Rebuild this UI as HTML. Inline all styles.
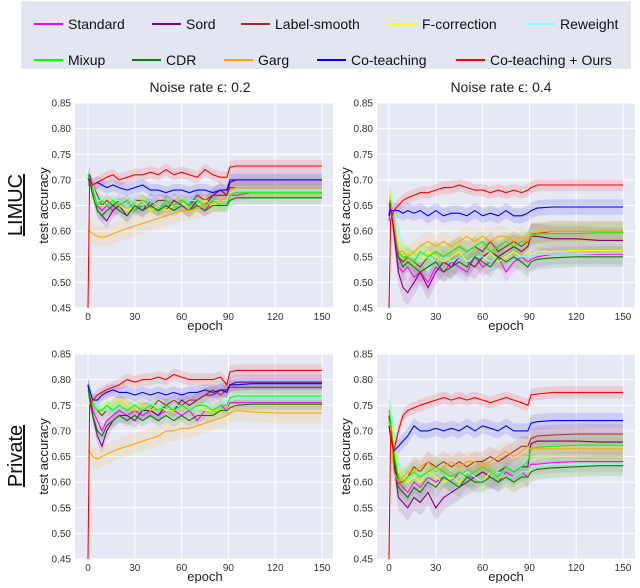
<!DOCTYPE html>
<html><head><meta charset="utf-8"><style>
body{margin:0;background:#fff;width:640px;height:583px;overflow:hidden;font-family:"Liberation Sans",sans-serif}
svg text{font-family:"Liberation Sans","DejaVu Sans",sans-serif}
</style></head><body>
<svg id="c" width="640" height="583" xmlns="http://www.w3.org/2000/svg"></svg>
<script>
const seriesNames=["Standard","Sord","Label-smooth","F-correction","Reweight","Mixup","CDR","Garg","Co-teaching","Co-teaching + Ours"];
const seriesColors=["#ff00ff","#800080","#a52a2a","#ffff00","#7fffff","#00ff00","#008000","#ffa500","#0000ff","#ff0000"];
const epochs=[0,1,3,6,9,12,16,20,25,30,35,40,45,50,55,60,65,70,75,80,85,89,91,95,105,120,135,150];
const yTicks=[0.45,0.50,0.55,0.60,0.65,0.70,0.75,0.80,0.85];
const xTicks=[0,30,60,90,120,150];
const panelTitles=["Noise rate ϵ: 0.2","Noise rate ϵ: 0.4"];
const rowLabels=["LIMUC","Private"];
const limuc02=[
[0.70,0.70,0.68,0.65,0.64,0.65,0.64,0.65,0.66,0.64,0.65,0.65,0.64,0.66,0.65,0.65,0.66,0.65,0.64,0.66,0.66,0.66,0.67,0.67,0.675,0.675,0.675,0.675],
[0.70,0.71,0.68,0.64,0.63,0.62,0.64,0.65,0.63,0.65,0.64,0.66,0.65,0.64,0.66,0.65,0.64,0.66,0.65,0.67,0.68,0.67,0.695,0.70,0.70,0.70,0.70,0.70],
[0.70,0.70,0.69,0.67,0.65,0.66,0.65,0.66,0.65,0.66,0.66,0.65,0.66,0.66,0.65,0.66,0.65,0.67,0.66,0.67,0.67,0.67,0.685,0.685,0.685,0.685,0.685,0.685],
[0.71,0.70,0.67,0.65,0.65,0.65,0.66,0.65,0.64,0.65,0.66,0.64,0.65,0.64,0.65,0.66,0.64,0.65,0.66,0.65,0.66,0.66,0.67,0.675,0.675,0.675,0.675,0.675],
[0.71,0.70,0.69,0.66,0.66,0.65,0.66,0.66,0.65,0.66,0.65,0.66,0.65,0.66,0.65,0.65,0.66,0.66,0.65,0.66,0.66,0.66,0.675,0.68,0.68,0.68,0.68,0.68],
[0.71,0.70,0.68,0.65,0.66,0.65,0.66,0.65,0.66,0.64,0.66,0.65,0.64,0.66,0.65,0.66,0.65,0.66,0.65,0.66,0.65,0.65,0.67,0.675,0.675,0.675,0.675,0.675],
[0.70,0.70,0.67,0.64,0.63,0.64,0.65,0.64,0.63,0.65,0.64,0.65,0.64,0.65,0.64,0.65,0.64,0.65,0.64,0.65,0.65,0.65,0.66,0.665,0.665,0.665,0.665,0.665],
[0.60,0.60,0.595,0.59,0.588,0.59,0.595,0.60,0.605,0.61,0.615,0.62,0.625,0.63,0.635,0.64,0.64,0.645,0.65,0.655,0.66,0.665,0.68,0.685,0.685,0.685,0.685,0.685],
[0.70,0.70,0.69,0.695,0.69,0.685,0.69,0.685,0.68,0.685,0.69,0.68,0.68,0.675,0.68,0.68,0.675,0.68,0.68,0.675,0.68,0.68,0.70,0.70,0.70,0.70,0.70,0.70],
[0.45,0.70,0.69,0.695,0.70,0.705,0.71,0.70,0.705,0.71,0.71,0.715,0.71,0.72,0.71,0.715,0.71,0.705,0.72,0.71,0.705,0.705,0.725,0.727,0.727,0.727,0.727,0.727]];
const limuc04=[
[0.62,0.65,0.60,0.53,0.52,0.53,0.51,0.52,0.50,0.53,0.52,0.54,0.53,0.52,0.55,0.53,0.54,0.55,0.52,0.54,0.55,0.54,0.545,0.55,0.555,0.555,0.555,0.555],
[0.63,0.66,0.60,0.52,0.49,0.48,0.50,0.52,0.49,0.52,0.54,0.53,0.55,0.54,0.53,0.55,0.56,0.55,0.56,0.57,0.56,0.57,0.59,0.59,0.585,0.585,0.582,0.582],
[0.63,0.66,0.62,0.55,0.54,0.55,0.54,0.53,0.55,0.56,0.55,0.56,0.57,0.56,0.57,0.56,0.58,0.56,0.57,0.58,0.57,0.58,0.595,0.595,0.60,0.60,0.60,0.60],
[0.68,0.67,0.62,0.57,0.55,0.56,0.55,0.54,0.56,0.55,0.54,0.55,0.56,0.54,0.55,0.54,0.56,0.54,0.55,0.56,0.55,0.56,0.555,0.56,0.56,0.562,0.562,0.562],
[0.68,0.68,0.64,0.60,0.57,0.55,0.55,0.54,0.55,0.54,0.55,0.54,0.55,0.54,0.55,0.55,0.54,0.55,0.54,0.55,0.55,0.55,0.555,0.555,0.555,0.555,0.557,0.557],
[0.65,0.66,0.62,0.56,0.55,0.55,0.54,0.56,0.55,0.56,0.55,0.56,0.57,0.56,0.57,0.58,0.56,0.57,0.58,0.57,0.58,0.58,0.59,0.595,0.595,0.595,0.597,0.597],
[0.65,0.66,0.62,0.55,0.53,0.54,0.53,0.52,0.53,0.54,0.52,0.53,0.54,0.53,0.55,0.54,0.53,0.55,0.54,0.55,0.54,0.53,0.54,0.545,0.548,0.55,0.55,0.55],
[0.66,0.66,0.62,0.56,0.56,0.55,0.56,0.57,0.58,0.57,0.58,0.57,0.58,0.59,0.58,0.59,0.58,0.59,0.59,0.58,0.59,0.58,0.595,0.598,0.60,0.60,0.60,0.60],
[0.63,0.64,0.64,0.64,0.635,0.64,0.635,0.64,0.63,0.64,0.63,0.635,0.635,0.63,0.64,0.63,0.635,0.63,0.64,0.63,0.63,0.635,0.64,0.645,0.647,0.647,0.647,0.647],
[0.45,0.62,0.64,0.65,0.66,0.665,0.67,0.675,0.675,0.68,0.685,0.685,0.69,0.685,0.68,0.68,0.675,0.68,0.675,0.68,0.675,0.68,0.685,0.69,0.69,0.69,0.69,0.69]];
const private02=[
[0.78,0.77,0.74,0.72,0.70,0.72,0.73,0.74,0.73,0.74,0.73,0.74,0.73,0.74,0.74,0.73,0.74,0.72,0.74,0.74,0.75,0.74,0.755,0.755,0.755,0.755,0.755,0.755],
[0.79,0.77,0.73,0.69,0.67,0.70,0.72,0.73,0.73,0.72,0.74,0.74,0.73,0.75,0.74,0.76,0.75,0.76,0.77,0.77,0.78,0.78,0.79,0.795,0.795,0.795,0.795,0.795],
[0.79,0.77,0.75,0.74,0.73,0.74,0.75,0.76,0.75,0.74,0.75,0.74,0.76,0.75,0.76,0.75,0.76,0.76,0.77,0.78,0.77,0.78,0.785,0.785,0.785,0.785,0.785,0.785],
[0.79,0.78,0.75,0.74,0.74,0.75,0.75,0.76,0.75,0.74,0.75,0.74,0.75,0.74,0.74,0.75,0.74,0.75,0.74,0.74,0.74,0.74,0.75,0.75,0.752,0.752,0.752,0.752],
[0.79,0.78,0.76,0.75,0.74,0.74,0.75,0.75,0.74,0.75,0.74,0.75,0.75,0.74,0.75,0.75,0.74,0.75,0.75,0.74,0.75,0.75,0.76,0.762,0.762,0.762,0.762,0.762],
[0.79,0.78,0.75,0.74,0.74,0.75,0.74,0.75,0.74,0.75,0.74,0.75,0.74,0.75,0.74,0.75,0.74,0.75,0.75,0.74,0.75,0.75,0.765,0.768,0.768,0.768,0.768,0.768],
[0.79,0.76,0.73,0.70,0.69,0.71,0.72,0.73,0.72,0.73,0.72,0.73,0.72,0.73,0.72,0.73,0.72,0.73,0.73,0.73,0.74,0.74,0.745,0.75,0.752,0.752,0.752,0.752],
[0.66,0.66,0.65,0.645,0.65,0.655,0.66,0.665,0.67,0.675,0.68,0.685,0.69,0.70,0.70,0.705,0.705,0.71,0.715,0.72,0.725,0.73,0.735,0.74,0.737,0.735,0.735,0.735],
[0.79,0.78,0.76,0.76,0.77,0.775,0.78,0.775,0.775,0.77,0.775,0.77,0.775,0.77,0.775,0.77,0.775,0.775,0.78,0.775,0.78,0.775,0.79,0.79,0.792,0.792,0.792,0.792],
[0.45,0.75,0.76,0.77,0.775,0.78,0.785,0.79,0.80,0.795,0.80,0.80,0.805,0.80,0.81,0.805,0.80,0.80,0.80,0.80,0.805,0.79,0.815,0.818,0.818,0.818,0.818,0.818]];
const private04=[
[0.74,0.72,0.66,0.60,0.59,0.58,0.60,0.59,0.61,0.60,0.61,0.60,0.62,0.61,0.61,0.62,0.61,0.60,0.62,0.61,0.62,0.61,0.635,0.635,0.638,0.64,0.64,0.64],
[0.72,0.70,0.64,0.57,0.56,0.55,0.57,0.56,0.58,0.55,0.57,0.58,0.59,0.60,0.61,0.62,0.61,0.62,0.63,0.62,0.63,0.63,0.675,0.68,0.68,0.68,0.678,0.678],
[0.73,0.70,0.66,0.60,0.60,0.61,0.63,0.62,0.64,0.63,0.64,0.63,0.64,0.63,0.64,0.64,0.65,0.64,0.65,0.66,0.67,0.67,0.685,0.69,0.692,0.694,0.694,0.694],
[0.76,0.75,0.68,0.62,0.61,0.60,0.61,0.60,0.62,0.61,0.60,0.61,0.60,0.62,0.61,0.60,0.62,0.61,0.61,0.60,0.61,0.61,0.63,0.632,0.635,0.635,0.635,0.635],
[0.76,0.75,0.70,0.64,0.62,0.61,0.61,0.62,0.61,0.62,0.61,0.60,0.61,0.62,0.61,0.60,0.61,0.62,0.61,0.61,0.62,0.62,0.63,0.632,0.635,0.635,0.635,0.635],
[0.74,0.72,0.66,0.61,0.60,0.61,0.62,0.61,0.62,0.63,0.62,0.61,0.62,0.61,0.62,0.63,0.62,0.61,0.63,0.62,0.63,0.64,0.665,0.668,0.67,0.672,0.672,0.672],
[0.73,0.70,0.65,0.59,0.58,0.57,0.59,0.58,0.60,0.59,0.61,0.60,0.59,0.61,0.60,0.60,0.61,0.60,0.61,0.60,0.61,0.61,0.62,0.625,0.628,0.63,0.632,0.632],
[0.72,0.70,0.62,0.60,0.61,0.62,0.62,0.63,0.64,0.62,0.63,0.64,0.63,0.64,0.64,0.63,0.64,0.65,0.66,0.65,0.66,0.67,0.665,0.665,0.665,0.665,0.665,0.665],
[0.71,0.69,0.66,0.67,0.68,0.69,0.71,0.70,0.70,0.705,0.70,0.705,0.70,0.71,0.70,0.71,0.705,0.70,0.71,0.70,0.70,0.70,0.715,0.718,0.72,0.72,0.72,0.72],
[0.45,0.70,0.66,0.70,0.73,0.74,0.745,0.75,0.755,0.76,0.765,0.76,0.765,0.76,0.765,0.76,0.755,0.76,0.765,0.76,0.755,0.75,0.77,0.772,0.775,0.775,0.775,0.775]];
const spread02=[0.012,0.015,0.012,0.012,0.012,0.012,0.012,0.02,0.012,0.012];
const spread04=[0.02,0.025,0.02,0.02,0.02,0.02,0.02,0.02,0.015,0.012];

const NS="http://www.w3.org/2000/svg";
const svg=document.getElementById('c');
function mk(tag,attrs,parent){const e=document.createElementNS(NS,tag);for(const k in attrs)e.setAttribute(k,attrs[k]);(parent||svg).appendChild(e);return e;}

// legend
const lg=mk('g',{});


mk('rect',{x:22,y:2,width:608,height:66,fill:'#e3e6f0',stroke:'#d6d9e4'},lg);
const legPos=[[34,24],[152,24],[241,24],[388,24],[526,24],[34,60],[132,60],[224,60],[317,60],[456,60]];
seriesNames.forEach((n,i)=>{
  const g=mk('g',{},lg);
  
  
  const [x,y]=legPos[i];
  mk('line',{x1:x,y1:y,x2:x+29,y2:y,stroke:seriesColors[i],'stroke-width':2},g);
  const t=mk('text',{x:x+34,y:y+5,'font-size':14,fill:'#111'},g);t.textContent=n;
});

const panels=[
 {data:limuc02,spread:spread02,x0:75,x1:333,ox:88,oe:322,y0:103,y1:308,name:'limuc-0-2'},
 {data:limuc04,spread:spread04,x0:377,x1:635,ox:389,oe:623,y0:103,y1:308,name:'limuc-0-4'},
 {data:private02,spread:spread02,x0:75,x1:333,ox:88,oe:322,y0:354,y1:559,name:'private-0-2'},
 {data:private04,spread:spread04,x0:377,x1:635,ox:389,oe:623,y0:354,y1:559,name:'private-0-4'}];

panels.forEach((p,pi)=>{
  const g=mk('g',{});
  
  
  const xs=e=>p.ox+(p.oe-p.ox)*e/150;
  const ys=v=>p.y1-(p.y1-p.y0)*(v-0.45)/0.40;
  mk('rect',{x:p.x0,y:p.y0,width:p.x1-p.x0,height:p.y1-p.y0,fill:'#e6e9f4'},g);
  yTicks.forEach(v=>{
    mk('line',{x1:p.x0,x2:p.x1,y1:ys(v),y2:ys(v),stroke:'#fff','stroke-width':1},g);
    const t=mk('text',{x:p.x0-4,y:ys(v)+3.5,'font-size':10,'text-anchor':'end',fill:'#333'},g);
    
    
    t.textContent=v.toFixed(2);
  });
  xTicks.forEach(v=>{
    mk('line',{x1:xs(v),x2:xs(v),y1:p.y0,y2:p.y1,stroke:'#fff','stroke-width':1},g);
    const t=mk('text',{x:xs(v),y:p.y1+12,'font-size':10,'text-anchor':'middle',fill:'#333'},g);
    
    
    t.textContent=v;
  });
  p.data.forEach((arr,si)=>{
    const s=p.spread[si];
    let up='',dn='';
    arr.forEach((v,k)=>{up+=(k?'L':'M')+xs(epochs[k]).toFixed(1)+','+ys(Math.min(0.85,v+s)).toFixed(1);});
    for(let k=arr.length-1;k>=0;k--){dn+='L'+xs(epochs[k]).toFixed(1)+','+ys(Math.max(0.45,arr[k]-s)).toFixed(1);}
    const band=mk('path',{d:up+dn+'Z',fill:seriesColors[si],'fill-opacity':0.12,stroke:'none'},g);
    
    
  });
  p.data.forEach((arr,si)=>{
    const d=arr.map((v,k)=>(k?'L':'M')+xs(epochs[k]).toFixed(1)+','+ys(v).toFixed(1)).join('');
    const l=mk('path',{d:d,fill:'none',stroke:seriesColors[si],'stroke-width':1.1},g);
    
    
  });
  const yl=mk('text',{x:0,y:0,'font-size':13,'text-anchor':'middle',fill:'#222',transform:`translate(${p.x0-27},${(p.y0+p.y1)/2}) rotate(-90)`},g);
  
  
  yl.textContent='test accuracy';
  const xl=mk('text',{x:(p.ox+p.oe)/2,y:p.y1+22,'font-size':13,'text-anchor':'middle',fill:'#222'},g);
  
  
  xl.textContent='epoch';
  if(pi<2){
    const tt=mk('text',{x:(p.ox+p.oe)/2-5,y:p.y0-11,'font-size':14,'text-anchor':'middle',fill:'#222'},g);
    
    
    tt.textContent=panelTitles[pi];
  }
});
rowLabels.forEach((r,i)=>{
  const cy=i?456:205;
  const t=mk('text',{x:0,y:0,'font-size':20,'text-anchor':'middle',fill:'#111','text-decoration':'underline',transform:`translate(22,${cy}) rotate(-90)`});
  
  
  t.textContent=r;
});
</script>
</body></html>
